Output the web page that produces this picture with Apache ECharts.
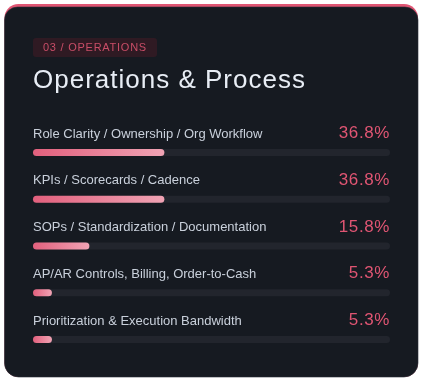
<!DOCTYPE html>
<html><head><meta charset="utf-8">
<script src="https://cdn.jsdelivr.net/npm/echarts@6/dist/echarts.min.js"></script>
<style>html,body{margin:0;padding:0;background:#fff}#c{width:422px;height:381px}</style>
</head><body><div id="c"></div>
<script>
const categories = [
  'Role Clarity / Ownership / Org Workflow',
  'KPIs / Scorecards / Cadence',
  'SOPs / Standardization / Documentation',
  'AP/AR Controls, Billing, Order-to-Cash',
  'Prioritization & Execution Bandwidth'
];
const values = [36.8, 36.8, 15.8, 5.3, 5.3];
const badgeText = '03 / OPERATIONS';
const titleText = 'Operations & Process';

// letter spacing by font size (canvas-level, for text styles that need tracking)
const SPACING = {'26px':'1px', '11px':'0.75px', '17px':'0.6px'};
(function(){
  const P = CanvasRenderingContext2D.prototype;
  const orig = P.fillText;
  P.fillText = function(t, x, y, w){
    const m = /(\d+(?:\.\d+)?px)/.exec(this.font || '');
    const sp = m && SPACING[m[1]];
    if ('letterSpacing' in this) this.letterSpacing = sp || '0px';
    return w === undefined ? orig.call(this, t, x, y) : orig.call(this, t, x, y, w);
  };
})();

const chart = echarts.init(document.getElementById('c'), null, {renderer:'canvas'});
const FONT = 'Liberation Sans, Arial, sans-serif';
chart.setOption({
  backgroundColor: '#ffffff',
  animation: false,
  graphic: [
    {type:'rect', z:-10, shape:{x:4.5,y:4,width:413.5,height:373,r:14}, style:{fill:'#e05573'}},
    {type:'rect', z:-9, shape:{x:4.5,y:7,width:413.5,height:370,r:[13,13,14,14]}, style:{fill:'#161a21', stroke:'#2a2e36', lineWidth:0.6}},
    {type:'rect', z:-8, shape:{x:33,y:38,width:124,height:19,r:3}, style:{fill:'#2f1a23'}},
    {type:'text', z:1, x:43, y:47.5, style:{text:badgeText, fill:'#c94d67', font:'11px '+FONT, verticalAlign:'middle'}},
    {type:'text', z:1, x:33, y:81, style:{text:titleText, fill:'#e8edf5', font:'26px '+FONT, verticalAlign:'middle'}}
  ],
  grid: {left:33, right:32, top:129.1, bottom:18.1},
  xAxis: {type:'value', min:0, max:100, show:false},
  yAxis: {type:'category', data:categories, inverse:true, show:false},
  series: [
    {
      type:'bar', barWidth:7, silent:true,
      data: categories.map(()=>100),
      itemStyle:{color:'#22252d', borderRadius:3.5},
      label:{show:true, position:[357,-15.5], align:'right', verticalAlign:'middle',
        formatter:(p)=>values[p.dataIndex].toFixed(1)+'%', color:'#e05573', fontSize:17, fontFamily:FONT}
    },
    {
      type:'bar', barWidth:7, barGap:'-100%', silent:true,
      data: values,
      itemStyle:{borderRadius:3.5, color:new echarts.graphic.LinearGradient(0,0,1,0,[{offset:0,color:'#e2607d'},{offset:1,color:'#f0a3b4'}])},
      label:{show:true, position:[0,-15],  align:'left', verticalAlign:'middle',
        formatter:(p)=>categories[p.dataIndex], color:'#c9d0db', fontSize:13, fontFamily:FONT}
    }
  ]
});
</script></body></html>
